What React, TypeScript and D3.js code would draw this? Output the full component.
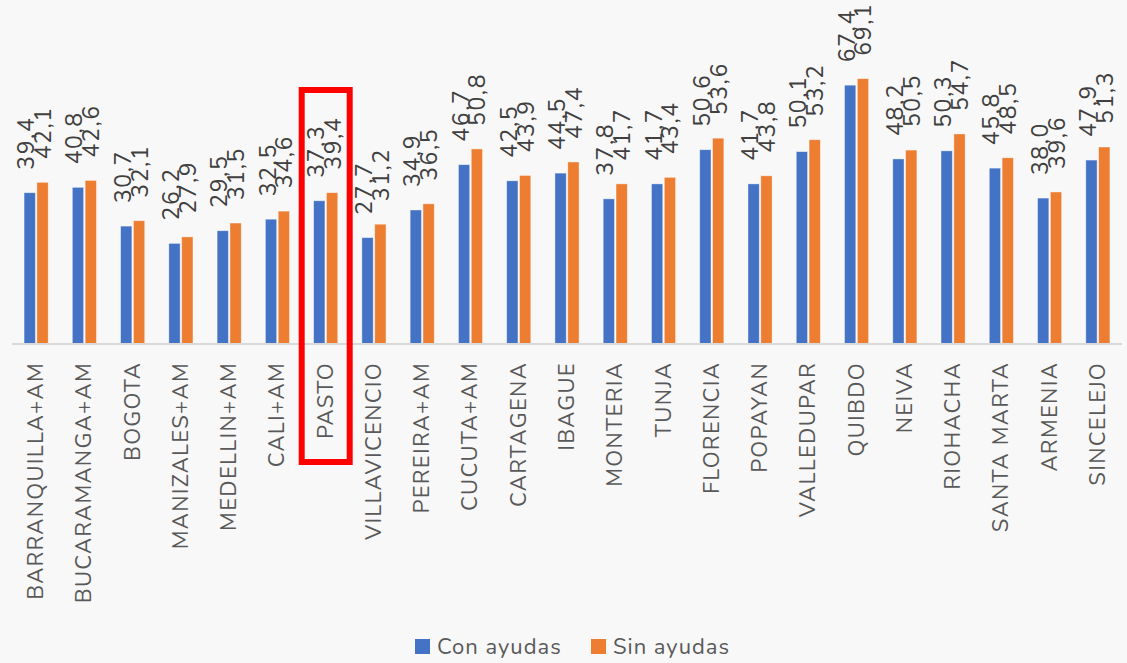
import * as d3 from "d3";

const cities = [
  "BARRANQUILLA+AM", "BUCARAMANGA+AM", "BOGOTA", "MANIZALES+AM", "MEDELLIN+AM",
  "CALI+AM", "PASTO", "VILLAVICENCIO", "PEREIRA+AM", "CUCUTA+AM", "CARTAGENA",
  "IBAGUE", "MONTERIA", "TUNJA", "FLORENCIA", "POPAYAN", "VALLEDUPAR", "QUIBDO",
  "NEIVA", "RIOHACHA", "SANTA MARTA", "ARMENIA", "SINCELEJO",
];

const conAyudas = [
  39.4, 40.8, 30.7, 26.2, 29.5, 32.5, 37.3, 27.7, 34.9, 46.7, 42.5, 44.5,
  37.8, 41.7, 50.6, 41.7, 50.1, 67.4, 48.2, 50.3, 45.8, 38.0, 47.9,
];

const sinAyudas = [
  42.1, 42.6, 32.1, 27.9, 31.5, 34.6, 39.4, 31.2, 36.5, 50.8, 43.9, 47.4,
  41.7, 43.4, 53.6, 43.8, 53.2, 69.1, 50.5, 54.7, 48.5, 39.6, 51.3,
];

const seriesNames = ["Con ayudas", "Sin ayudas"];
const colors = ["#4472C4", "#ED7D31"];
const highlighted = "PASTO";

export default function App() {
  const width = 1127;
  const height = 663;
  const baseline = 344;
  const font = "Nunito, Lato, 'Open Sans', sans-serif";

  const x0 = d3.scaleBand()
    .domain(cities)
    .range([12, 1122])
    .paddingInner(0.5)
    .paddingOuter(0.25);

  const x1 = d3.scaleBand()
    .domain(seriesNames)
    .range([0, x0.bandwidth()])
    .paddingInner(0.12);

  const y = d3.scaleLinear().domain([0, 80]).range([baseline, baseline - 307.2]);

  const fmt = (v: number) => v.toFixed(1).replace(".", ",");

  const rows = cities.map((c, i) => ({ city: c, values: [conAyudas[i], sinAyudas[i]] }));

  const hx = x0(highlighted)! + x0.bandwidth() / 2;

  return (
    <svg width={width} height={height} style={{ position: "absolute", left: 0, top: 0 }}>
      <rect width={width} height={height} fill="#f8f8f8" />

      {/* bars */}
      {rows.map((r) => (
        <g key={r.city} transform={`translate(${x0(r.city)},0)`}>
          {r.values.map((v, j) => (
            <rect
              key={j}
              x={x1(seriesNames[j])}
              y={y(v)}
              width={x1.bandwidth()}
              height={baseline - y(v)}
              fill={colors[j]}
              stroke="#ffffff"
              strokeOpacity={0.5}
              strokeWidth={0.8}
            />
          ))}
        </g>
      ))}

      {/* axis line */}
      <line x1={12} x2={1122} y1={baseline} y2={baseline} stroke="#d9d9d9" strokeWidth={2} />

      {/* value labels */}
      {rows.map((r) =>
        r.values.map((v, j) => {
          const cx = x0(r.city)! + x1(seriesNames[j])! + x1.bandwidth() / 2 + (j === 0 ? -3 : 1);
          const cy = y(v) - 23;
          return (
            <text
              key={r.city + j}
              transform={`translate(${cx},${cy}) rotate(-90)`}
              dominantBaseline="central"
              fontFamily={font}
              fontSize={23}
              letterSpacing={1.6}
              fill="#404040"
            >
              {fmt(v)}
            </text>
          );
        })
      )}

      {/* category labels */}
      {cities.map((c) => (
        <text
          key={c}
          transform={`translate(${x0(c)! + x0.bandwidth() / 2},362) rotate(-90)`}
          textAnchor="end"
          dominantBaseline="central"
          fontFamily={font}
          fontSize={22}
          letterSpacing={1.3}
          fill="#595959"
        >
          {c}
        </text>
      ))}

      {/* highlight box */}
      <rect x={hx - 24} y={90} width={48} height={372} fill="none" stroke="#ff0000" strokeWidth={6} />

      {/* legend */}
      {seriesNames.map((s, i) => {
        const lx = i === 0 ? 415 : 591;
        return (
          <g key={s} transform={`translate(${lx},639)`}>
            <rect width={15} height={15} fill={colors[i]} />
            <text x={22} y={8} dominantBaseline="central" fontFamily={font} fontSize={22} letterSpacing={1} fill="#595959">
              {s}
            </text>
          </g>
        );
      })}
    </svg>
  );
}
